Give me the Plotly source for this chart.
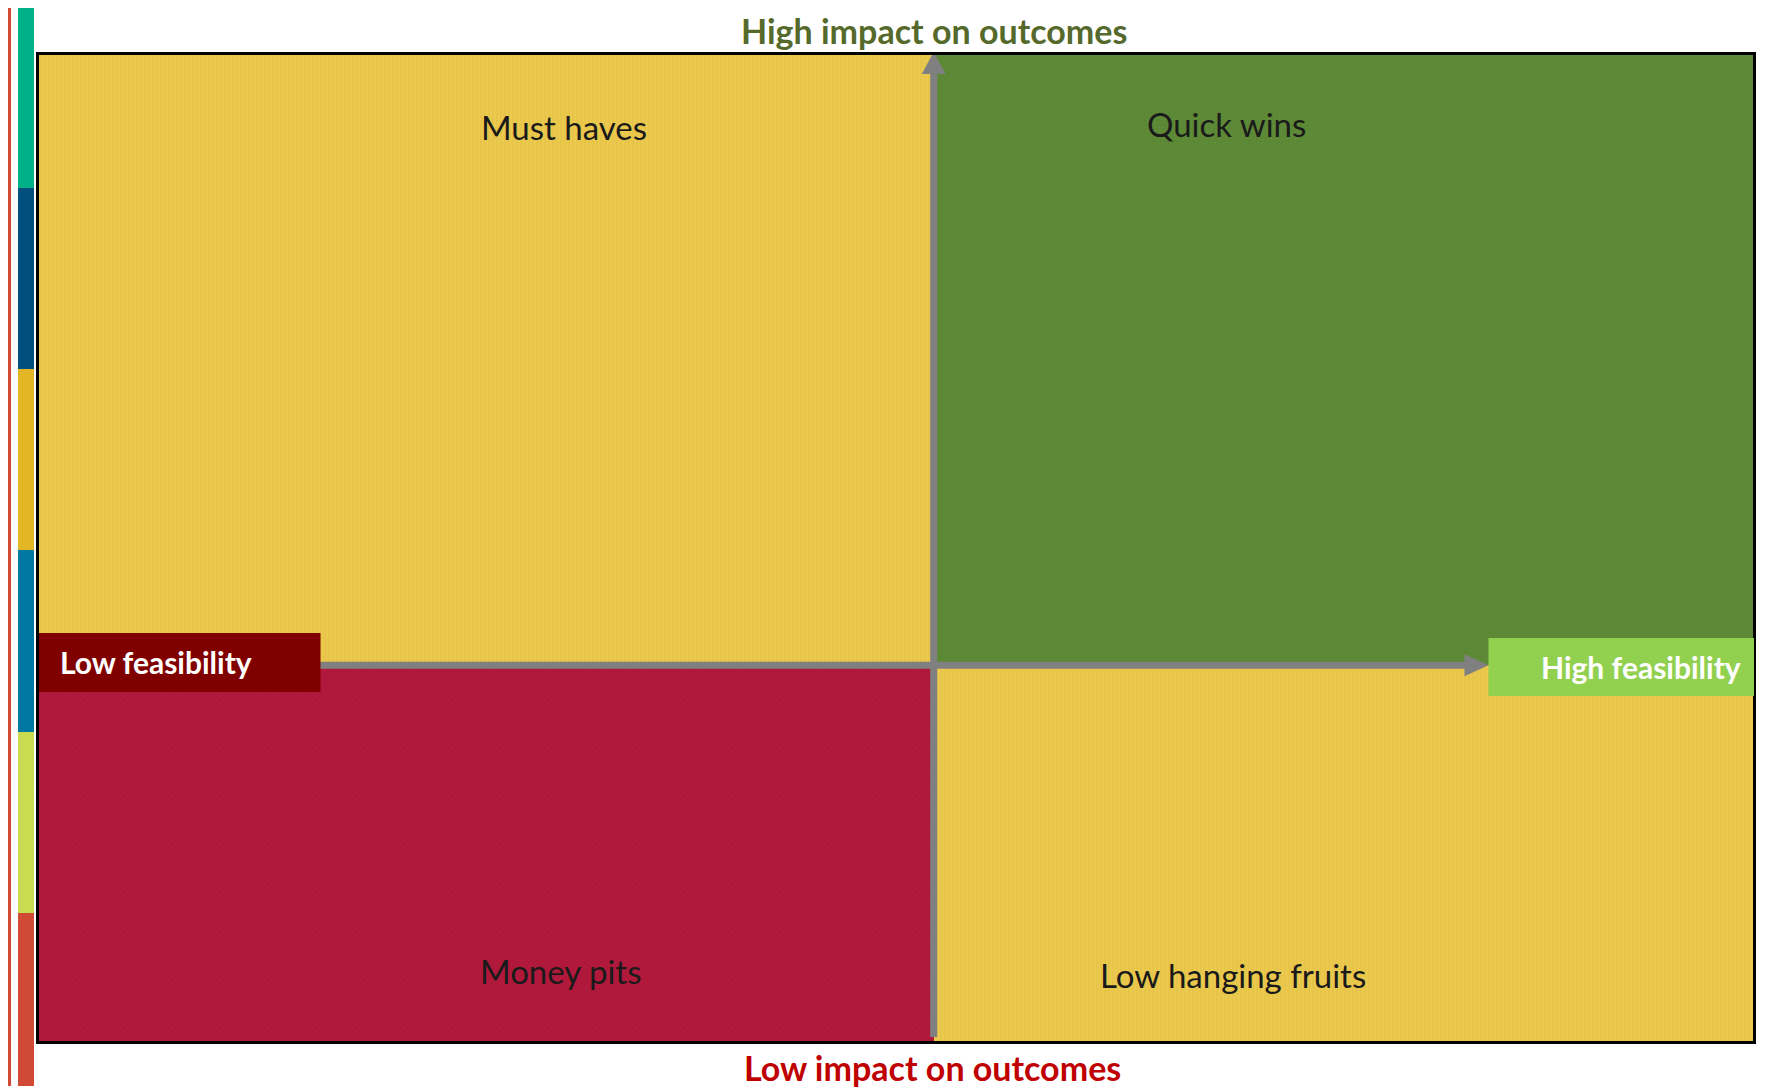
import plotly.graph_objects as go

# ---------------- data ----------------
quadrant_names = ["Must haves", "Quick wins", "Money pits", "Low hanging fruits"]
quadrant_colors = ["#EBC94D", "#5E8B37", "#B2193C", "#EBC94D"]
quadrant_texture = ["#D9B43A", "#4F7A2C", "#9A1232", "#D9B43A"]
quadrant_pattern = ["|", "+", "x", "|"]
quadrant_feas = ["low", "high", "low", "high"]      # feasibility side
quadrant_impact = ["high", "high", "low", "low"]    # impact side

feasibility_range = [0, 100]
impact_range = [0, 100]
feasibility_split = 52.2
impact_split = 38.1

axis_titles = {"top": "High impact on outcomes", "bottom": "Low impact on outcomes",
               "left": "Low feasibility", "right": "High feasibility"}

stripe_colors = ["#00B086", "#004F7D", "#E2B624", "#0078A2", "#C9DB51", "#D04A36"]

# ---------------- layout constants (pixels, page coords) ----------------
W, H = 1765, 1090
OFF = 8                           # default body margin of the page
L, R, T, B = 39, 1756, 55, 1041   # plot frame (inner edge)


def px_x(px):
    return feasibility_range[0] + (px - L) / (R - L) * (feasibility_range[1] - feasibility_range[0])


def px_y(py):
    return impact_range[0] + (B - py) / (B - T) * (impact_range[1] - impact_range[0])


def paper_x(px):
    return (px - L) / (R - L)


def paper_y(py):
    return (B - py) / (B - T)


fig = go.Figure()

# quadrants as bars
for name, col, tex, pat, fs, im in zip(quadrant_names, quadrant_colors, quadrant_texture,
                                       quadrant_pattern, quadrant_feas, quadrant_impact):
    x0, x1 = (feasibility_range[0], feasibility_split) if fs == "low" else (feasibility_split, feasibility_range[1])
    y0, y1 = (impact_range[0], impact_split) if im == "low" else (impact_split, impact_range[1])
    fig.add_trace(go.Bar(
        x=[(x0 + x1) / 2], width=[x1 - x0], base=[y0], y=[y1 - y0],
        marker=dict(color=col, line=dict(width=0),
                    pattern=dict(shape=pat, fgcolor=tex, fgopacity=0.35, size=4,
                                 solidity=0.3, fillmode="overlay")),
        name=name, showlegend=False, hoverinfo="name",
    ))

GRAY = "#808080"
shapes = []
vx_px = L + (feasibility_split - feasibility_range[0]) / (feasibility_range[1] - feasibility_range[0]) * (R - L)
hy_px = B - (impact_split - impact_range[0]) / (impact_range[1] - impact_range[0]) * (B - T)
# vertical arrow shaft
shapes.append(dict(type="line", xref="x", yref="y",
                   x0=feasibility_split, x1=feasibility_split,
                   y0=px_y(1037), y1=px_y(70), line=dict(color=GRAY, width=7)))
# vertical arrow head
shapes.append(dict(type="path", xref="x", yref="y",
                   path=f"M {px_x(vx_px - 12)},{px_y(74)} L {px_x(vx_px + 12)},{px_y(74)} "
                        f"L {feasibility_split},{px_y(52)} Z",
                   fillcolor=GRAY, line=dict(width=0), layer="above"))
# horizontal arrow shaft
shapes.append(dict(type="line", xref="x", yref="y",
                   x0=px_x(300), x1=px_x(1470), y0=impact_split, y1=impact_split,
                   line=dict(color=GRAY, width=7)))
shapes.append(dict(type="path", xref="x", yref="y",
                   path=f"M {px_x(1467)},{px_y(hy_px - 11)} L {px_x(1467)},{px_y(hy_px + 11)} "
                        f"L {px_x(1491)},{impact_split} Z",
                   fillcolor=GRAY, line=dict(width=0), layer="above"))

# label boxes
shapes.append(dict(type="rect", xref="paper", yref="paper",
                   x0=paper_x(39), x1=paper_x(321), y0=paper_y(692), y1=paper_y(633),
                   fillcolor="#800000", line=dict(width=0), layer="above"))
shapes.append(dict(type="rect", xref="paper", yref="paper",
                   x0=paper_x(1491), x1=paper_x(1757), y0=paper_y(696), y1=paper_y(638),
                   fillcolor="#92D050", line=dict(width=0), layer="above"))

# left stripes
shapes.append(dict(type="rect", xref="paper", yref="paper",
                   x0=paper_x(5), x1=paper_x(11), y0=paper_y(1086), y1=paper_y(6),
                   fillcolor="#D04A36", line=dict(width=0)))
seg_edges = [6, 188, 369, 550, 732, 913, 1086]
for i, c in enumerate(stripe_colors):
    shapes.append(dict(type="rect", xref="paper", yref="paper",
                       x0=paper_x(18), x1=paper_x(34), y0=paper_y(seg_edges[i + 1]), y1=paper_y(seg_edges[i]),
                       fillcolor=c, line=dict(width=0)))

FONT = "Lato, 'Open Sans', sans-serif"
annotations = []
label_pos = [(565, 127), (1229, 124), (561, 971), (1235, 975)]
for name, (lx, ly) in zip(quadrant_names, label_pos):
    annotations.append(dict(text=name, xref="paper", yref="paper", x=paper_x(lx), y=paper_y(ly),
                            xanchor="center", yanchor="middle", showarrow=False,
                            font=dict(family=FONT, size=33, color="#1A1A1A")))

annotations.append(dict(text=f"<b>{axis_titles['top']}</b>", xref="paper", yref="paper",
                        x=paper_x(936), y=paper_y(30), xanchor="center", yanchor="middle",
                        showarrow=False, font=dict(family=FONT, size=34, color="#55692B")))
annotations.append(dict(text=f"<b>{axis_titles['bottom']}</b>", xref="paper", yref="paper",
                        x=paper_x(934), y=paper_y(1067), xanchor="center", yanchor="middle",
                        showarrow=False, font=dict(family=FONT, size=34, color="#C00000")))
annotations.append(dict(text=f"<b>{axis_titles['left']}</b>", xref="paper", yref="paper",
                        x=paper_x(58), y=paper_y(662), xanchor="left", yanchor="middle",
                        showarrow=False, font=dict(family=FONT, size=30, color="white")))
annotations.append(dict(text=f"<b>{axis_titles['right']}</b>", xref="paper", yref="paper",
                        x=paper_x(1542), y=paper_y(667), xanchor="left", yanchor="middle",
                        showarrow=False, font=dict(family=FONT, size=30, color="white")))

fig.update_layout(
    width=W - OFF, height=H - OFF,
    margin=dict(l=L - OFF, r=W - R, t=T - OFF, b=H - B, pad=0),
    paper_bgcolor="white", plot_bgcolor="white",
    barmode="overlay", bargap=0,
    shapes=shapes, annotations=annotations,
    showlegend=False,
)
fig.update_xaxes(range=feasibility_range, showgrid=False, zeroline=False, showticklabels=False,
                 ticks="", showline=True, linecolor="black", linewidth=3, mirror=True)
fig.update_yaxes(range=impact_range, showgrid=False, zeroline=False, showticklabels=False,
                 ticks="", showline=True, linecolor="black", linewidth=3, mirror=True)

fig.write_html("out.html")
